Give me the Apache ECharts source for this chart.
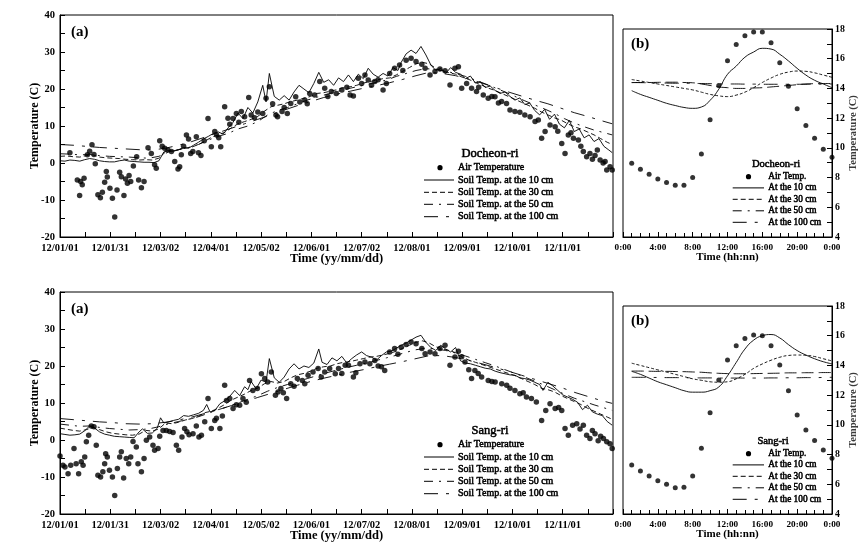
<!DOCTYPE html>
<html>
<head>
<meta charset="utf-8">
<script src="https://cdn.jsdelivr.net/npm/echarts@6/dist/echarts.min.js"></script>
<style>html,body{margin:0;padding:0;background:#fff}#c{width:867px;height:555px}</style>
</head>
<body>
<div id="c"></div>
<script>
// ---------- annual panels: x = day of year (0 = 12/01/01) ----------
const dateTicks = ['12/01/01','12/01/31','12/03/02','12/04/01','12/05/02','12/06/01','12/07/02','12/08/01','12/09/01','12/10/01','12/11/01',''];
const hourTicks = ['0:00','4:00','8:00','12:00','16:00','20:00','0:00'];

// Docheon-ri annual
const docAir = [[6,2.8],[10.5,-4.6],[11.9,-8.8],[12.5,-5.0],[13.5,-5.9],[14.6,-4.1],[16.6,2.2],[18,3.2],[19.4,4.9],[20.6,2.3],[21.4,-0.2],[23,-8.6],[24.5,-9.4],[25.7,-7.9],[27.1,-5.2],[28.1,-2.3],[28.7,-3.8],[30.3,-6.8],[31.8,-9.5],[33.2,-14.6],[34.6,-7.3],[36.2,-2.5],[37.2,-3.7],[38.8,-8.8],[39.8,-4.3],[40.9,-5.5],[41.9,-3.4],[42.9,-5.0],[44.5,-0.8],[46.5,1.7],[47.7,-4.6],[49.4,-6.7],[51.0,-5.0],[53.4,4.1],[55.4,2.6],[57.4,-0.5],[58.4,-1.4],[60.5,6.0],[62,4.5],[63.5,4.0],[65.5,3.5],[67.6,3.1],[69.6,0.4],[71.6,-1.6],[72.6,-1.0],[73.6,2.2],[75,4.5],[76.7,7.6],[78,6.5],[79.3,2.6],[80.6,3.1],[82.7,7.1],[84,2.8],[85.5,2.0],[87.5,6.0],[89.8,12.0],[91.8,4.4],[93.9,8.5],[95,7.6],[96.3,6.8],[97.5,4.4],[99.9,15.2],[101.9,12.1],[103,10.5],[105,12.0],[107,13.4],[108.5,11.0],[110,13.9],[112,12.5],[114.5,17.7],[116,13.0],[118,12.2],[120,13.8],[123,13.4],[125,17.5],[127,20.6],[129,16.0],[131,13.0],[132,12.5],[134.7,13.9],[136,15.0],[137.9,13.4],[140,16.1],[143,17.9],[145.5,16.5],[148.5,17.0],[150,16.0],[151.5,18.8],[154.5,18.4],[157.6,22.0],[160.6,20.2],[162.5,18.0],[164.6,19.3],[167.6,18.8],[171,19.7],[174,20.5],[176,18.4],[178,18.1],[181,22.9],[183,21.5],[185,23.8],[187,22.4],[189,21.0],[191,22.0],[193,22.5],[196,19.7],[198,21.5],[200,24.2],[203,25.6],[206,26.5],[208,25.0],[210,27.8],[213,28.3],[216,27.4],[219.5,26.7],[221.5,25.6],[224.5,23.8],[227.5,24.7],[230.5,25.4],[233.6,24.9],[236.6,21.1],[239.6,25.6],[241.7,26.0],[243.7,20.2],[246.7,21.5],[249.7,20.2],[252.7,19.3],[254,20.5],[256.8,18.4],[259.8,17.5],[262,18.0],[263.9,17.9],[266,16.2],[267.9,16.6],[270.9,16.1],[273,14.3],[276,13.9],[279,13.7],[282,13.0],[285.2,12.5],[288.2,11.2],[290.2,11.6],[292.2,6.7],[294.3,8.5],[297.3,10.3],[300.4,9.8],[302,8.6],[304.4,5.3],[306.4,2.6],[308.4,7.6],[310,8.2],[311.5,6.7],[314.5,6.2],[316,4.5],[317.5,3.1],[319.5,1.7],[321.5,2.6],[323,1.0],[324.6,2.0],[326,3.5],[327.7,0.8],[329.5,0.0],[330.7,0.4],[331.7,-1.9],[333.7,-1.0],[335,-1.9]];
const doc10 = [[0,0.6],[3,0.5],[6,0.8],[9,0.7],[12,0.5],[15,0.9],[18,1.2],[21,1.0],[24,0.6],[27,0.4],[30,0.3],[33,0.3],[36,0.6],[39,0.8],[42,0.5],[45,0.4],[48,0.3],[51,0.2],[54,0.2],[57,0.1],[60,0.6],[63,3.0],[66,3.4],[69,3.2],[72,3.6],[75,4.2],[78,4.0],[81,4.8],[84,5.6],[87,6.5],[90,7.2],[93,8.0],[96,8.4],[99,7.8],[102,9.5],[105,11.0],[108,13.5],[111,12.0],[114,15.0],[117,13.5],[120,16.5],[123,21.0],[125,16.5],[127,24.2],[130,18.0],[133,17.0],[136,18.2],[139,17.0],[142,19.2],[145,21.0],[148,20.0],[151,19.0],[154,21.5],[157,24.5],[160,21.8],[163,22.5],[166,21.0],[169,23.0],[172,22.0],[175,23.8],[178,22.0],[181,24.0],[184,22.8],[187,25.6],[190,24.0],[193,23.2],[196,24.2],[199,23.5],[202,25.8],[205,25.0],[207,27.2],[210,29.5],[213,30.5],[216,29.6],[219,31.5],[222,29.2],[225,26.5],[228,25.0],[231,25.6],[234,24.2],[237,25.8],[240,24.5],[243,24.0],[246,22.8],[249,23.5],[252,21.6],[255,22.0],[258,20.4],[261,20.8],[264,19.6],[267,18.8],[270,19.2],[273,18.0],[276,17.0],[279,17.6],[282,15.8],[285,16.2],[288,14.2],[291,13.0],[294,14.5],[297,11.8],[300,13.2],[303,10.5],[306,9.5],[309,11.5],[312,8.5],[315,9.2],[318,6.8],[321,7.6],[324,5.8],[327,6.6],[330,4.5],[333,3.5],[335,2.8]];
const doc30 = [[0,1.8],[4,1.9],[8,1.7],[12,1.6],[16,2.0],[20,2.2],[24,1.6],[28,1.4],[32,1.3],[36,1.2],[40,1.0],[44,0.9],[48,0.8],[52,0.9],[56,0.8],[60,1.3],[64,3.0],[68,3.2],[72,3.6],[76,4.0],[80,4.3],[84,5.0],[88,5.9],[92,7.0],[96,7.6],[100,8.3],[104,9.5],[108,10.6],[112,11.2],[116,11.8],[120,12.6],[124,14.0],[128,15.2],[132,15.6],[136,16.0],[140,16.6],[144,17.0],[148,17.5],[152,18.0],[156,18.8],[160,19.0],[164,19.4],[168,19.8],[172,20.4],[176,20.6],[180,21.0],[184,21.6],[188,22.0],[192,22.4],[196,22.8],[200,23.0],[204,23.8],[208,24.8],[212,25.8],[216,26.8],[220,27.2],[224,26.8],[228,25.6],[232,24.8],[236,24.4],[240,24.0],[244,23.2],[248,22.6],[252,21.8],[256,21.0],[260,20.2],[264,19.6],[268,18.8],[272,18.0],[276,17.2],[280,16.4],[284,15.6],[288,14.8],[292,13.8],[296,13.0],[300,12.2],[304,11.6],[308,10.6],[312,9.8],[316,9.2],[320,8.4],[324,7.6],[328,6.6],[332,5.6],[335,5.0]];
const doc50 = [[0,2.5],[6,2.4],[12,2.2],[18,2.3],[24,2.0],[30,1.8],[36,1.7],[42,1.6],[48,1.4],[54,1.3],[60,1.8],[66,3.0],[72,3.6],[78,4.2],[84,5.0],[90,6.2],[96,7.2],[102,8.0],[108,9.2],[114,10.0],[120,11.2],[126,13.0],[132,14.2],[138,15.0],[144,16.0],[150,17.0],[156,17.8],[162,18.6],[168,19.3],[174,20.0],[180,20.6],[186,21.2],[192,21.8],[198,22.4],[204,23.4],[210,24.2],[216,25.0],[222,25.5],[228,25.3],[234,24.8],[240,24.2],[246,23.4],[252,22.4],[258,21.4],[264,20.3],[270,19.2],[276,18.0],[282,16.8],[288,15.7],[294,14.6],[300,13.4],[306,12.0],[312,10.8],[318,9.8],[324,8.9],[330,8.2],[335,7.6]];
const doc100 = [[0,5.0],[8,4.8],[16,4.5],[24,4.2],[32,4.0],[40,3.8],[48,3.6],[56,3.5],[64,4.0],[72,4.8],[80,5.8],[88,7.0],[96,8.2],[104,9.4],[112,10.6],[120,11.8],[128,13.0],[136,14.3],[144,15.5],[152,16.6],[160,17.7],[168,18.6],[176,19.4],[184,20.2],[192,20.9],[200,21.7],[208,22.6],[216,23.6],[224,24.5],[232,24.2],[240,23.6],[248,22.7],[256,21.6],[264,20.4],[272,19.2],[280,18.1],[288,17.0],[296,16.0],[304,14.8],[312,13.6],[320,12.6],[328,11.5],[335,10.6]];

// Sang-ri annual
const sangAir = [[0,-4.3],[1.8,-6.8],[3,-7.3],[4.9,-9.1],[6.5,-6.8],[8.5,-2.3],[9.8,-6.4],[11.3,-9.1],[12.9,-5.9],[14,-6.8],[15,-4.6],[16,-0.5],[17.4,1.3],[19,3.8],[20.6,3.6],[22,-1.4],[23,-9.5],[24.6,-10.0],[26,-8.6],[27.1,-6.4],[27.7,-3.7],[28.7,-4.6],[30,-8.2],[31.8,-10.0],[33.2,-15.0],[34.8,-7.7],[36.2,-4.6],[37.2,-3.2],[38.6,-10.3],[40.2,-5.0],[41.7,-6.4],[42.9,-4.6],[44.3,-0.4],[46.3,-1.9],[47.3,-6.4],[49.4,-8.6],[51,-5.0],[52.4,-0.1],[54.4,0.8],[56.4,-1.4],[57.4,-2.8],[59.5,-2.3],[60.5,1.0],[62.5,2.6],[64.5,2.6],[66.5,2.3],[68.6,2.0],[70.6,-1.4],[72,-2.8],[74,0.8],[75.6,3.1],[77,2.2],[78.3,1.4],[80.7,1.7],[82.7,3.8],[84.3,0.8],[85.8,1.3],[87.8,4.9],[89.8,11.2],[91.8,3.1],[93.9,5.3],[94.9,5.9],[97,3.1],[98.5,6.5],[99.9,14.8],[101,10.7],[103,11.2],[105,8.5],[107,9.5],[109,9.4],[111,11.2],[113,10.2],[115,16.1],[117,13.4],[119.7,13.9],[122.2,17.9],[124.2,16.6],[126,15.7],[128.2,18.4],[130.7,12.1],[132.3,13.0],[134,13.9],[135.5,12.8],[137.5,11.2],[140,15.2],[142,14.5],[144,16.6],[147,16.1],[148.5,15.2],[150.5,17.5],[153.5,18.4],[156.6,19.3],[158.5,17.0],[160.6,18.4],[163.6,19.3],[167,17.9],[169,19.3],[171,18.0],[173,20.2],[175,20.2],[178,17.0],[179.5,18.2],[182,20.6],[185,21.1],[188,20.6],[191,21.5],[193,20.0],[195,19.8],[197,18.8],[200,23.8],[203,24.7],[205,23.2],[207,25.1],[210,25.8],[213,26.5],[216,26.0],[219.5,24.7],[221.5,23.3],[224.5,23.8],[227.5,23.3],[230.5,24.7],[233.6,25.6],[236.6,20.2],[239.6,22.4],[241.7,24.0],[243.7,22.5],[245.7,21.1],[248,19.0],[249.7,16.6],[251.7,18.8],[253.7,18.0],[255.8,17.0],[259.8,16.1],[262,15.8],[264,15.7],[268,15.2],[271,14.8],[273,14.0],[276,13.4],[279,12.5],[281,12.8],[283,11.6],[286,11.2],[289,10.3],[292.2,5.3],[294.7,8.0],[297.3,9.8],[300.4,8.5],[302.5,8.8],[304.4,8.0],[306.4,3.1],[308.4,1.3],[311,4.0],[313.5,4.4],[315.5,3.0],[317.5,4.0],[319.5,1.3],[321.5,0.4],[323,2.6],[324.6,1.7],[326.5,-0.2],[328,1.0],[329.7,0.4],[331.7,-0.5],[333.7,-1.0],[335,-2.3]];
const sang10 = [[0,1.7],[3,1.5],[6,1.3],[9,1.4],[12,1.6],[15,2.5],[18,3.8],[21,3.2],[24,2.2],[27,1.6],[30,1.3],[33,1.0],[36,0.9],[39,0.8],[42,0.7],[45,0.6],[48,2.2],[50,3.0],[53,1.8],[56,1.9],[59,3.2],[61,6.0],[63,4.6],[66,4.9],[69,5.3],[72,5.6],[75,6.6],[78,6.4],[81,6.8],[84,7.2],[87,8.0],[89,9.6],[91,7.6],[94,8.0],[97,9.8],[100,10.6],[103,11.8],[106,13.4],[109,12.0],[112,14.4],[114,13.6],[116,15.8],[119,13.8],[122,16.2],[125,15.6],[127,22.0],[130,16.8],[133,15.6],[136,17.0],[139,19.2],[142,20.6],[145,19.2],[148,20.0],[151,19.6],[154,20.8],[157,24.6],[159,21.0],[162,20.4],[165,22.2],[168,21.4],[171,22.6],[174,20.8],[177,22.0],[180,23.0],[183,23.8],[186,22.8],[189,22.4],[192,21.6],[195,22.8],[198,23.8],[201,24.0],[204,24.8],[207,25.6],[210,26.2],[213,27.0],[216,27.8],[219,28.3],[222,26.4],[225,25.0],[228,24.2],[231,25.6],[234,24.6],[237,23.8],[240,25.0],[243,21.4],[246,20.8],[249,20.6],[252,20.2],[255,19.8],[258,19.4],[261,19.2],[264,18.6],[267,18.2],[270,17.9],[273,17.6],[276,17.5],[279,16.8],[282,16.6],[285,16.2],[288,15.6],[291,15.0],[293,13.4],[296,15.6],[299,14.6],[302,13.4],[305,12.2],[308,11.6],[311,11.0],[314,10.2],[317,8.2],[320,9.4],[323,7.6],[326,7.0],[329,6.6],[332,5.0],[335,4.0]];
const sang30 = [[0,3.2],[4,2.9],[8,2.6],[12,2.4],[16,2.8],[20,3.4],[24,2.8],[28,2.2],[32,1.8],[36,1.6],[40,1.4],[44,1.3],[48,1.6],[52,2.6],[56,2.4],[60,3.0],[64,4.6],[68,4.4],[72,4.8],[76,5.4],[80,5.8],[84,6.4],[88,7.4],[92,7.8],[96,8.6],[100,9.6],[104,10.8],[108,11.6],[112,12.4],[116,13.4],[120,14.0],[124,15.2],[128,15.8],[132,15.4],[136,15.8],[140,16.8],[144,17.6],[148,18.0],[152,18.6],[156,19.4],[160,19.8],[164,20.0],[168,20.6],[172,21.0],[176,21.2],[180,21.6],[184,22.0],[188,22.4],[192,22.6],[196,23.0],[200,23.4],[204,24.0],[208,24.8],[212,25.6],[216,26.4],[220,26.8],[224,26.2],[228,25.2],[232,24.6],[236,24.2],[240,23.6],[244,22.4],[248,21.6],[252,21.0],[256,20.4],[260,19.8],[264,19.2],[268,18.6],[272,18.0],[276,17.4],[280,16.6],[284,15.8],[288,15.0],[292,14.0],[296,13.6],[300,13.0],[304,12.0],[308,11.2],[312,10.4],[316,9.6],[320,8.6],[324,7.8],[328,7.0],[332,6.2],[335,5.6]];
const sang50 = [[0,4.3],[6,4.0],[12,3.7],[18,3.8],[24,3.4],[30,3.1],[36,2.9],[42,2.7],[48,2.8],[54,3.0],[60,3.6],[66,4.4],[72,5.0],[78,5.6],[84,6.3],[90,7.2],[96,8.2],[102,9.0],[108,10.0],[114,11.0],[120,12.0],[126,13.2],[132,14.2],[138,15.0],[144,15.8],[150,16.6],[156,17.4],[162,18.2],[168,18.9],[174,19.6],[180,20.2],[186,20.8],[192,21.5],[198,22.2],[204,22.9],[210,23.7],[216,24.4],[222,24.8],[228,24.6],[234,24.2],[240,23.5],[246,22.7],[252,21.8],[258,20.9],[264,20.0],[270,19.0],[276,18.0],[282,17.0],[288,15.9],[294,14.8],[300,13.6],[306,12.4],[312,11.3],[318,10.4],[324,9.5],[330,8.7],[335,8.0]];
const sang100 = [[0,5.8],[8,5.5],[16,5.2],[24,4.9],[32,4.7],[40,4.4],[48,4.3],[56,4.4],[64,4.8],[72,5.4],[80,6.2],[88,7.2],[96,8.2],[104,9.3],[112,10.4],[120,11.5],[128,12.6],[136,13.7],[144,14.8],[152,15.8],[160,16.7],[168,17.5],[176,18.3],[184,19.0],[192,19.8],[200,20.5],[208,21.2],[216,22.0],[224,22.8],[232,22.8],[240,22.3],[248,21.5],[256,20.6],[264,19.6],[272,18.6],[280,17.5],[288,16.4],[296,15.3],[304,14.2],[312,12.9],[320,11.8],[328,10.7],[335,9.9]];

// ---------- daily panels: x = hour ----------
const hours = [1,2,3,4,5,6,7,8,9,10,11,12,13,14,15,16,17,18,19,20,21,22,23,24];
const docHAir = [8.96,8.56,8.22,7.9,7.66,7.48,7.48,8.0,9.59,11.9,14.2,15.87,16.95,17.55,17.8,17.8,17.08,15.73,14.14,12.64,11.5,10.64,9.9,9.37];
const docH10 = [13.85,13.6,13.4,13.2,13.0,12.85,12.72,12.66,12.75,13.2,13.95,14.95,15.5,16.1,16.45,16.7,16.65,16.3,15.85,15.35,14.9,14.55,14.3,14.05];
const docH30 = [14.6,14.5,14.4,14.3,14.2,14.1,14.0,13.9,13.75,13.6,13.5,13.45,13.55,13.75,14.05,14.4,14.7,14.95,15.1,15.17,15.15,15.05,14.9,14.75];
const docH50 = [14.39,14.4,14.4,14.41,14.42,14.42,14.4,14.38,14.3,14.2,14.1,14.05,14.0,14.0,14.03,14.05,14.1,14.15,14.2,14.25,14.3,14.32,14.33,14.33];
const docH100 = [14.4,14.39,14.38,14.37,14.36,14.35,14.35,14.34,14.33,14.32,14.31,14.3,14.3,14.29,14.29,14.28,14.28,14.28,14.28,14.28,14.28,14.29,14.29,14.3];
const sangHAir = [7.3,6.9,6.56,6.24,6.0,5.77,5.8,6.56,8.42,10.82,13.02,14.37,15.33,15.82,16.05,16.0,15.33,14.03,12.3,10.67,9.66,8.94,8.31,7.75];
const sangH10 = [13.6,13.4,13.15,12.9,12.7,12.5,12.3,12.2,12.2,12.3,12.55,13.3,14.2,15.1,15.7,16.0,16.08,15.85,15.4,15.0,14.7,14.45,14.25,14.1];
const sangH30 = [14.15,14.0,13.85,13.7,13.55,13.4,13.25,13.1,13.0,12.9,12.87,12.9,13.1,13.4,13.8,14.1,14.35,14.55,14.67,14.7,14.68,14.6,14.45,14.3];
const sangH50 = [13.62,13.62,13.61,13.6,13.6,13.59,13.58,13.56,13.54,13.5,13.47,13.45,13.44,13.44,13.45,13.46,13.47,13.48,13.5,13.5,13.51,13.51,13.52,13.52];
const sangH100 = [13.2,13.2,13.19,13.19,13.18,13.18,13.17,13.17,13.16,13.16,13.15,13.15,13.15,13.15,13.15,13.15,13.16,13.16,13.17,13.17,13.18,13.18,13.19,13.2];

// ---------- build ----------
const FONT = '"Liberation Serif","Times New Roman",serif';
const DASH30 = [5, 3];
const DASH50 = [9, 6, 2, 6];
const DASH100 = [14, 8, 3, 8];
const pair = (xs, ys) => xs.map((x, i) => [x, ys[i]]);

function lineS(name, data, idx, dash, smooth) {
  return { type: 'line', name, data, xAxisIndex: idx, yAxisIndex: idx, symbol: 'none', showSymbol: false,
    smooth: smooth || false, lineStyle: { color: '#000', width: 0.9, type: dash }, silent: true, z: 3 };
}
function dotS(name, data, idx, size) {
  return { type: 'scatter', name, data, xAxisIndex: idx, yAxisIndex: idx, symbol: 'circle', symbolSize: size,
    itemStyle: { color: '#000' }, silent: true, z: 4 };
}
const tickStyle = { color: '#000', width: 1 };
const lbl = (size, margin, extra) => Object.assign({ color: '#000', fontFamily: FONT, fontWeight: 'bold', fontSize: size, margin }, extra || {});
const nameStyle = (size, color, va) => Object.assign({ color: color || '#000', fontFamily: FONT, fontWeight: 'bold', fontSize: size }, va ? { verticalAlign: va } : {});

function annualX(idx) {
  return { type: 'value', gridIndex: idx, min: 0, max: 335.5, interval: 30.5,
    axisLine: { show: true, onZero: false, lineStyle: tickStyle },
    axisTick: { show: true, inside: true, length: 5, lineStyle: tickStyle },
    minorTick: { show: true, splitNumber: 2, length: 5, lineStyle: tickStyle },
    splitLine: { show: false },
    axisLabel: lbl(10.5, 6, { showMinLabel: true, showMaxLabel: true, formatter: v => dateTicks[Math.round(v / 30.5)] || '' }),
    name: 'Time (yy/mm/dd)', nameLocation: 'middle', nameGap: 15, nameMoveOverlap: false,
    nameTextStyle: nameStyle(12.5, '#000', 'top') };
}
function annualY(idx) {
  return { type: 'value', gridIndex: idx, min: -20, max: 40, interval: 10,
    axisLine: { show: true, onZero: false, lineStyle: tickStyle },
    axisTick: { show: true, inside: true, length: 5, lineStyle: tickStyle },
    minorTick: { show: true, splitNumber: 2, length: 5, lineStyle: tickStyle },
    splitLine: { show: false },
    axisLabel: lbl(10.5, 5),
    name: 'Temperature (C)', nameLocation: 'middle', nameGap: 19, nameRotate: 90, nameMoveOverlap: false,
    nameTextStyle: nameStyle(12) };
}
function dailyX(idx) {
  return { type: 'value', gridIndex: idx, min: 0, max: 24, interval: 4,
    axisLine: { show: true, onZero: false, lineStyle: tickStyle },
    axisTick: { show: true, inside: true, length: 5, lineStyle: tickStyle },
    minorTick: { show: true, splitNumber: 4, length: 4, lineStyle: tickStyle },
    splitLine: { show: false },
    axisLabel: lbl(9.2, 6, { showMinLabel: true, showMaxLabel: true, formatter: v => hourTicks[Math.round(v / 4)] }),
    name: 'Time (hh:nn)', nameLocation: 'middle', nameGap: 15, nameMoveOverlap: false,
    nameTextStyle: nameStyle(11, '#000', 'top') };
}
function dailyY(idx) {
  return { type: 'value', gridIndex: idx, position: 'right', min: 4, max: 18, interval: 2,
    axisLine: { show: true, onZero: false, lineStyle: tickStyle },
    axisTick: { show: true, inside: true, length: 5, lineStyle: tickStyle },
    minorTick: { show: true, splitNumber: 2, length: 5, lineStyle: tickStyle },
    splitLine: { show: false },
    axisLabel: lbl(9.8, 3),
    name: 'Temperature (C)', nameLocation: 'middle', nameGap: 16, nameRotate: 90, nameMoveOverlap: false,
    nameTextStyle: nameStyle(10.5, '#3a3a3a') };
}

function legendBlock(o) {
  const els = [];
  const txt = (x, y, t, size, align) => ({ type: 'text', x, y,
    style: { text: t, fill: '#000', stroke: '#000', lineWidth: 0.5, font: size + 'px ' + FONT, align, verticalAlign: 'middle' } });
  els.push(txt(o.titleX, o.titleY, o.title, o.titleSize, 'center'));
  const dashes = [null, null, DASH30, DASH50, DASH100];
  o.rows.forEach((t, i) => {
    const y = o.rowY[i];
    if (i === 0) {
      els.push({ type: 'circle', shape: { cx: o.dotX, cy: y, r: 2.6 }, style: { fill: '#000' } });
    } else {
      els.push({ type: 'line', shape: { x1: o.lx1, y1: y, x2: o.lx2, y2: y },
        style: { stroke: '#000', lineWidth: 1, lineDash: dashes[i] || null } });
    }
    els.push(txt(o.textX, y, t, o.size, 'left'));
  });
  return els;
}

const annualRows = ['Air Temperature','Soil Temp. at the 10 cm','Soil Temp. at the 30 cm','Soil Temp. at the 50 cm','Soil Temp. at the 100 cm'];
const dailyRows = ['Air Temp.','At the 10 cm','At the 30 cm','At the 50 cm','At the 100 cm'];

const graphics = [].concat(
  legendBlock({ title: 'Docheon-ri', titleX: 490, titleY: 154, titleSize: 12.5, size: 10, rows: annualRows,
    rowY: [167.7, 180, 192.3, 204.3, 216.7], dotX: 440, lx1: 424, lx2: 454, textX: 458 }),
  legendBlock({ title: 'Sang-ri', titleX: 490, titleY: 431, titleSize: 12.5, size: 10, rows: annualRows,
    rowY: [444.7, 457, 469.3, 481.3, 493.7], dotX: 440, lx1: 424, lx2: 454, textX: 458 }),
  legendBlock({ title: 'Docheon-ri', titleX: 776, titleY: 164.3, titleSize: 10.6, size: 9.3, rows: dailyRows,
    rowY: [176.7, 187.9, 199.3, 210.8, 222.3], dotX: 748.5, lx1: 732.7, lx2: 764, textX: 768.3 }),
  legendBlock({ title: 'Sang-ri', titleX: 773, titleY: 441.7, titleSize: 10.6, size: 9.3, rows: dailyRows,
    rowY: [453.7, 464.9, 476.3, 487.8, 499.3], dotX: 748.5, lx1: 732.7, lx2: 764, textX: 768.3 }),
  [
    { type: 'text', x: 71, y: 32, style: { text: '(a)', fill: '#000', font: 'bold 15px ' + FONT, align: 'left', verticalAlign: 'middle' } },
    { type: 'text', x: 71, y: 309, style: { text: '(a)', fill: '#000', font: 'bold 15px ' + FONT, align: 'left', verticalAlign: 'middle' } },
    { type: 'text', x: 631, y: 44, style: { text: '(b)', fill: '#000', font: 'bold 15px ' + FONT, align: 'left', verticalAlign: 'middle' } },
    { type: 'text', x: 631, y: 321.5, style: { text: '(b)', fill: '#000', font: 'bold 15px ' + FONT, align: 'left', verticalAlign: 'middle' } }
  ]
);

const gridStyle = { show: true, borderColor: '#000', borderWidth: 1, backgroundColor: 'transparent', containLabel: false };
const option = {
  animation: false,
  backgroundColor: '#fff',
  grid: [
    Object.assign({ left: 60, top: 15, width: 553, height: 222 }, gridStyle),
    Object.assign({ left: 623, top: 29, width: 209, height: 208 }, gridStyle),
    Object.assign({ left: 60, top: 292, width: 553, height: 222 }, gridStyle),
    Object.assign({ left: 623, top: 306, width: 209, height: 208 }, gridStyle)
  ],
  xAxis: [annualX(0), dailyX(1), annualX(2), dailyX(3)],
  yAxis: [annualY(0), dailyY(1), annualY(2), dailyY(3)],
  series: [
    lineS('Soil Temp. at the 100 cm', doc100, 0, DASH100),
    lineS('Soil Temp. at the 50 cm', doc50, 0, DASH50),
    lineS('Soil Temp. at the 30 cm', doc30, 0, DASH30),
    lineS('Soil Temp. at the 10 cm', doc10, 0, 'solid'),
    dotS('Air Temperature', docAir, 0, 5.5),
    lineS('At the 100 cm', pair(hours, docH100), 1, DASH100, true),
    lineS('At the 50 cm', pair(hours, docH50), 1, [12, 5], true),
    lineS('At the 30 cm', pair(hours, docH30), 1, [3, 2], true),
    lineS('At the 10 cm', pair(hours, docH10), 1, 'solid', true),
    dotS('Air Temp.', pair(hours, docHAir), 1, 5),
    lineS('Soil Temp. at the 100 cm', sang100, 2, DASH100),
    lineS('Soil Temp. at the 50 cm', sang50, 2, DASH50),
    lineS('Soil Temp. at the 30 cm', sang30, 2, DASH30),
    lineS('Soil Temp. at the 10 cm', sang10, 2, 'solid'),
    dotS('Air Temperature', sangAir, 2, 5.5),
    lineS('At the 100 cm', pair(hours, sangH100), 3, DASH100, true),
    lineS('At the 50 cm', pair(hours, sangH50), 3, [12, 5], true),
    lineS('At the 30 cm', pair(hours, sangH30), 3, [3, 2], true),
    lineS('At the 10 cm', pair(hours, sangH10), 3, 'solid', true),
    dotS('Air Temp.', pair(hours, sangHAir), 3, 5)
  ],
  graphic: graphics
};
const chart = echarts.init(document.getElementById('c'), null, { renderer: 'canvas' });
chart.setOption(option);
</script>
</body>
</html>
